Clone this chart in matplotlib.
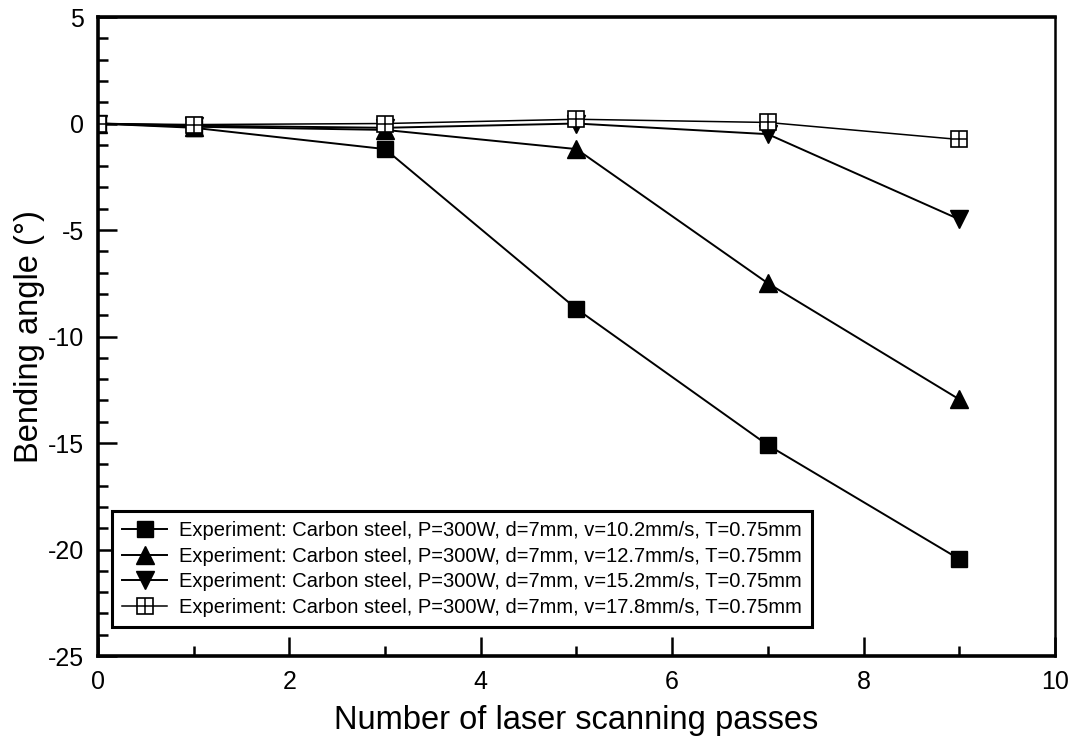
import matplotlib.pyplot as plt
from matplotlib.legend_handler import HandlerTuple

plt.rcParams['font.family'] = ['Liberation Sans', 'DejaVu Sans']
plt.rcParams['axes.unicode_minus'] = False

passes = [0, 1, 3, 5, 7, 9]
angle_v102 = [0.0, -0.2, -1.2, -8.7, -15.1, -20.45]
angle_v127 = [0.0, -0.15, -0.3, -1.2, -7.5, -12.95]
angle_v152 = [0.0, -0.1, -0.2, 0.0, -0.5, -4.5]
angle_v178 = [0.0, -0.05, 0.0, 0.2, 0.05, -0.75]

labels = [
    'Experiment: Carbon steel, P=300W, d=7mm, v=10.2mm/s, T=0.75mm',
    'Experiment: Carbon steel, P=300W, d=7mm, v=12.7mm/s, T=0.75mm',
    'Experiment: Carbon steel, P=300W, d=7mm, v=15.2mm/s, T=0.75mm',
    'Experiment: Carbon steel, P=300W, d=7mm, v=17.8mm/s, T=0.75mm',
]

fig = plt.figure(figsize=(10.74, 7.53), dpi=100)
ax = fig.add_axes([0.0912, 0.1288, 0.8911, 0.8486])

lw = 1.4
h1, = ax.plot(passes, angle_v102, '-s', color='k', lw=lw, ms=11.5)
h2, = ax.plot(passes, angle_v127, '-^', color='k', lw=lw, ms=13)
h3, = ax.plot(passes, angle_v152, '-v', color='k', lw=lw, ms=13)
# open square with a cross inside: square outline plus a '+' on top
h4, = ax.plot(passes, angle_v178, '-s', color='k', lw=1.1, ms=11,
              mfc='white', mec='k', mew=1.2)
h4b, = ax.plot(passes, angle_v178, '+', color='k', ms=11, mew=1.1)

ax.set_xlim(0, 10)
ax.set_ylim(-25, 5)
ax.set_xticks(range(0, 11, 2))
ax.set_xticks(range(0, 11), minor=True)
ax.set_yticks(range(-25, 6, 5))
ax.set_yticks(range(-25, 6), minor=True)

ax.tick_params(which='both', direction='in', top=False, right=False,
               labelsize=18, width=1.8, pad=10)
ax.tick_params(which='major', length=14)
ax.tick_params(which='minor', length=7)

for side in ['left', 'bottom', 'top']:
    ax.spines[side].set_linewidth(2.6)
ax.spines['right'].set_linewidth(1.8)

ax.set_xlabel('Number of laser scanning passes', fontsize=23.5, labelpad=8)
ax.set_ylabel('Bending angle (°)', fontsize=23.5)
ax.yaxis.set_label_coords(-0.055, 0.5)

leg = ax.legend([h1, h2, h3, (h4, h4b)], labels,
                handler_map={tuple: HandlerTuple(ndivide=1, pad=0)},
                loc='lower left', bbox_to_anchor=(0.0146, 0.0454),
                borderaxespad=0, fontsize=14.5, fancybox=False,
                framealpha=1, edgecolor='k', handlelength=2.25,
                handletextpad=0.6, borderpad=0.5, labelspacing=0.33)
leg.get_frame().set_linewidth(2.2)

fig.savefig('out.png', dpi=100)
